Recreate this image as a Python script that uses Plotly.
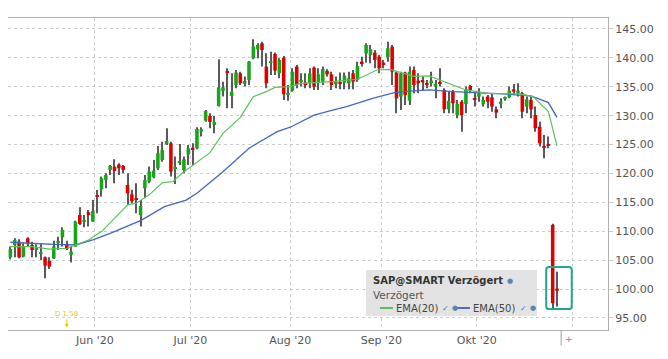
import plotly.graph_objects as go
import pandas as pd

# ---------------- data ----------------
dates = pd.bdate_range("2020-05-04", "2020-10-27")

opens = [105.5, 107.63, 108.21, 105.62, 108.79, 107.63, 106.77, 106.1, 105.5, 104.87,
         105.33, 108.1, 108.96, 107.81, 105.91, 107.35, 112.82, 111.61, 113.29, 111.67,
         116.1, 117.27, 118.88, 120.61, 121.19, 121.53, 121.3, 118.01, 116.4, 115.6,
         112.82, 117.44, 118.59, 119.34, 120.9, 122.34, 125.05, 125.22, 120.8, 121.88,
         120.61, 123.32, 124.47, 124.36, 127.24, 129.14, 129.95, 128.39, 131.68, 134.28,
         137.68, 133.41, 135.31, 137.33, 135.49, 136.18, 139.93, 141.49, 142.52, 138.49,
         139.2, 140.68, 137.33, 140.04, 133.7, 134.33, 138.49, 135.89, 135.72, 135.6,
         138.32, 135.72, 135.89, 137.74, 137.16, 135.43, 135.72, 135.72, 135.6, 137.33,
         136.18, 139.35, 140.79, 140.5, 140.91, 140.21, 139.18, 140.1, 141.95, 137.45,
         133.3, 137.45, 132.6, 137.91, 136.07, 136.18, 135.49, 135.78, 135.03, 135.72,
         134.45, 131.1, 134.16, 130.12, 132.43, 132.03, 135.14, 132.9, 133.3, 131.97,
         133.3, 133.18, 131.1, 132.03, 132.9, 133.18, 134.57, 133.99, 133.87, 131.57,
         132.72, 130.12, 128.11, 124.76, 125.11, 111.1, 100.1]
highs = [107.35, 108.79, 108.61, 107.92, 108.96, 108.21, 107.75, 107.75, 105.62, 105.5,
         108.38, 109.07, 110.69, 108.38, 107.35, 111.84, 114.15, 112.82, 113.69, 115.42,
         117.15, 119.46, 120.03, 121.47, 122.46, 121.76, 121.47, 120.03, 117.2, 118.3,
         115.42, 119.74, 121.19, 122.34, 124.76, 125.51, 127.82, 125.51, 122.92, 125.11,
         122.92, 124.94, 125.22, 127.99, 127.99, 130.99, 130.41, 129.95, 139.76, 135.89,
         138.2, 137.33, 137.91, 137.62, 136.76, 139.47, 143.22, 142.52, 142.81, 140.79,
         141.08, 140.91, 139.93, 140.33, 135.31, 138.2, 138.78, 137.33, 137.33, 138.2,
         138.49, 138.2, 138.49, 138.03, 137.62, 136.76, 137.45, 137.45, 137.62, 137.91,
         139.35, 140.21, 142.52, 142.24, 141.37, 140.5, 139.64, 142.81, 142.24, 137.62,
         137.62, 137.62, 138.49, 138.49, 137.33, 136.76, 136.18, 137.62, 136.18, 138.2,
         134.74, 134.16, 134.45, 132.72, 132.72, 135.03, 135.31, 134.16, 134.74, 133.3,
         133.58, 133.87, 131.57, 133.01, 133.3, 135.03, 135.49, 135.6, 134.16, 133.3,
         133.3, 131.57, 128.97, 126.66, 126.38, 111.3, 103.0]
lows = [105.15, 105.5, 105.33, 105.5, 107.35, 105.5, 105.5, 105.04, 101.87, 103.48,
        105.21, 106.77, 107.35, 106.77, 104.58, 107.35, 111.09, 110.69, 110.81, 111.67,
        113.11, 116.0, 117.44, 119.74, 118.3, 119.74, 120.03, 114.55, 114.8, 113.11,
        110.81, 115.71, 118.3, 119.17, 120.61, 122.05, 124.94, 119.46, 118.19, 121.47,
        120.03, 121.47, 121.47, 124.18, 126.38, 128.97, 127.82, 126.95, 131.57, 133.3,
        131.28, 131.28, 134.74, 135.31, 135.03, 135.31, 139.76, 139.93, 138.49, 134.74,
        137.04, 137.04, 136.47, 132.72, 132.6, 134.16, 134.74, 135.03, 134.74, 134.74,
        134.45, 134.45, 135.31, 136.76, 134.45, 134.74, 134.57, 134.57, 134.57, 134.57,
        135.89, 138.49, 139.18, 139.06, 138.2, 137.33, 138.2, 139.35, 135.31, 130.41,
        131.0, 131.86, 131.86, 133.87, 133.87, 134.45, 134.74, 135.03, 133.01, 135.03,
        130.41, 130.41, 130.41, 129.55, 127.24, 130.41, 133.87, 131.57, 132.43, 131.57,
        131.28, 130.7, 129.55, 131.28, 132.6, 133.01, 133.58, 133.3, 129.55, 130.41,
        129.55, 127.24, 124.65, 122.63, 124.36, 96.7, 97.0]
closes = [106.94, 108.5, 105.5, 107.35, 107.92, 106.77, 107.06, 106.2, 104.06, 103.89,
          107.35, 108.2, 110.23, 106.94, 106.48, 111.67, 111.27, 111.96, 112.82, 113.52,
          116.0, 119.17, 119.74, 121.3, 120.44, 120.9, 120.61, 116.57, 115.2, 115.5,
          114.38, 118.88, 120.32, 120.5, 123.49, 124.07, 125.63, 120.32, 120.9, 122.17,
          122.46, 124.36, 124.07, 127.7, 127.65, 130.82, 128.91, 128.91, 134.91, 134.91,
          137.45, 134.16, 137.45, 135.6, 136.01, 139.35, 141.95, 142.24, 141.37, 135.6,
          139.3, 137.8, 139.64, 133.7, 133.87, 137.62, 135.31, 136.18, 135.31, 137.33,
          135.03, 137.16, 138.08, 137.16, 135.31, 135.89, 135.49, 136.93, 136.47, 135.89,
          138.6, 139.06, 142.24, 141.49, 139.64, 138.2, 138.78, 141.66, 137.62, 133.01,
          137.33, 133.58, 137.62, 135.31, 135.6, 135.78, 135.31, 136.07, 135.49, 135.49,
          131.1, 132.55, 132.14, 132.03, 130.12, 134.62, 134.45, 132.8, 133.87, 132.72,
          132.43, 131.57, 130.53, 132.43, 133.0, 134.33, 134.16, 134.33, 130.7, 132.83,
          131.1, 127.82, 125.22, 124.53, 124.88, 97.55, 99.7]

# EMA lines (trading-day position, value)
ema20_pos = [0, 5, 9, 13, 15, 18, 21, 24, 27, 29, 32, 35, 37.5, 39.5, 46, 49, 53, 56, 59, 61,
             64.5, 67, 74, 80, 82, 84.5, 87.5, 90.5, 93, 96.5, 102, 105, 110, 114.5, 117.5,
             120.5, 124, 126]
ema20_val = [107.35, 107.35, 106.9, 107.06, 107.63, 108.5, 109.94, 112.25, 114.55, 114.84,
             116.3, 118.4, 118.6, 120.0, 123.6, 126.95, 129.7, 133.3, 134.16, 134.9,
             135.03, 135.6, 135.9, 136.3, 137.05, 137.9, 138.0, 137.3, 136.8, 136.87,
             135.3, 134.45, 133.87, 133.87, 133.76, 133.3, 130.7, 124.76]
ema50_pos = [0, 5, 10, 15, 19, 23, 27, 30, 31.5, 35.5, 40.5, 43, 49, 55, 57.5, 61.5, 64.5,
             70, 74.5, 77.5, 83.5, 88.5, 91.5, 96.5, 102, 107.5, 113.5, 120, 124, 126]
ema50_val = [108.1, 107.9, 107.75, 107.63, 108.5, 109.65, 110.9, 111.85, 112.5, 114.27,
             115.4, 116.57, 120.3, 124.36, 125.5, 127.24, 128.0, 130.1, 131.0, 131.57,
             133.0, 134.0, 134.2, 134.45, 134.16, 133.99, 133.76, 133.41, 132.26, 129.72]

y_ticks = [95, 100, 105, 110, 115, 120, 125, 130, 135, 140, 145]
month_names = {6: "Jun '20", 7: "Jul '20", 8: "Aug '20", 9: "Sep '20", 10: "Okt '20", 11: ""}
dividend_date = "2020-05-21"
dividend_text = "D 1.58"

# ---------------- figure ----------------
FONT = "DejaVu Sans"
n = len(closes)
idx = list(range(n))
GREEN, RED = "#17a617", "#dc0000"

body_base = [min(o, c) for o, c in zip(opens, closes)]
body_h = [max(abs(c - o), 0.2) for o, c in zip(opens, closes)]
body_col = [GREEN if c >= o else RED for o, c in zip(opens, closes)]

fig = go.Figure()
fig.add_trace(go.Bar(x=idx, base=lows, y=[h - l for h, l in zip(highs, lows)],
                     width=0.24, marker=dict(color="#5a5a5a", line=dict(width=0)),
                     hoverinfo="skip"))
fig.add_trace(go.Bar(x=idx, base=body_base, y=body_h, width=0.82,
                     marker=dict(color=body_col, line=dict(width=0)), hoverinfo="skip"))
fig.add_trace(go.Scatter(x=ema50_pos, y=ema50_val, mode="lines",
                         line=dict(color="#4466c4", width=1.3), hoverinfo="skip"))
fig.add_trace(go.Scatter(x=ema20_pos, y=ema20_val, mode="lines",
                         line=dict(color="#5cc25c", width=1.2), hoverinfo="skip"))

# month ticks (boundary before first trading day of each month)
tickvals, ticktext = [], []
months = [d.month for d in dates]
for i in range(1, n):
    if months[i] != months[i - 1]:
        tickvals.append(i - 0.5)
        ticktext.append(month_names[months[i]])
tickvals.append(n + 3 - 0.5)   # Nov boundary (Oct 28-30 + 1)
ticktext.append(month_names[11])

grid = "#cdcdcd"
# the page body has an 8px default margin, so the figure is offset by 8px
fig.update_layout(
    width=660, height=351,
    margin=dict(l=0, r=60, t=10, b=29),
    paper_bgcolor="white", plot_bgcolor="white",
    showlegend=False, barmode="overlay",
    font=dict(family=FONT, size=11, color="#555555"),
    xaxis=dict(range=[-0.55, 137.75], tickvals=tickvals, ticktext=ticktext,
               showgrid=True, gridcolor=grid, griddash="dot", gridwidth=1,
               showline=True, linecolor="#b0b0b0", mirror=True, ticks="",
               zeroline=False, tickfont=dict(size=11, color="#555555", family=FONT)),
    yaxis=dict(range=[92.92, 146.9], side="right", tickvals=y_ticks, tickformat=".2f",
               showgrid=True, gridcolor=grid, griddash="dot", gridwidth=1,
               showline=True, linecolor="#b0b0b0", mirror=True,
               ticks="outside", ticklen=4, tickcolor=grid, zeroline=False,
               tickfont=dict(size=11, color="#555555", family=FONT)),
)

# pixel (page coords of the reference) -> paper coords
def px(xp):
    return (xp - 8) / 600.0

def py(yp):
    return (330 - yp) / 312.0

# legend / info box
fig.add_shape(type="rect", xref="paper", yref="paper", x0=px(366), x1=px(537),
              y0=py(316), y1=py(270), fillcolor="#e3e3e3", line=dict(width=0), layer="above")
ann = []
ann.append(dict(x=px(371), y=py(280.5), text="<b>SAP@SMART Verzögert</b>",
                font=dict(size=10, color="#333333", family=FONT)))
ann.append(dict(x=px(505), y=py(280.5), text="●", font=dict(size=7, color="#5b84b1", family=FONT)))
ann.append(dict(x=px(371), y=py(295), text="Verzögert",
                font=dict(size=10.5, color="#555555", family=FONT)))
ann.append(dict(x=px(394), y=py(308), text="EMA(20)", font=dict(size=10, color="#444444", family=FONT)))
ann.append(dict(x=px(440), y=py(308), text="✓", font=dict(size=8, color="#3b6fd0", family=FONT)))
ann.append(dict(x=px(450), y=py(308), text="●", font=dict(size=7, color="#5b84b1", family=FONT)))
ann.append(dict(x=px(471), y=py(308), text="EMA(50)", font=dict(size=10, color="#444444", family=FONT)))
ann.append(dict(x=px(518), y=py(308), text="✓", font=dict(size=8, color="#3b6fd0", family=FONT)))
ann.append(dict(x=px(528), y=py(308), text="●", font=dict(size=7, color="#5b84b1", family=FONT)))
for a in ann:
    a.update(xref="paper", yref="paper", xanchor="left", yanchor="middle", showarrow=False)
    fig.add_annotation(**a)
fig.add_shape(type="line", xref="paper", yref="paper", x0=px(380), x1=px(393),
              y0=py(308), y1=py(308), line=dict(color="#3fb23f", width=1.6), layer="above")
fig.add_shape(type="line", xref="paper", yref="paper", x0=px(457), x1=px(470),
              y0=py(308), y1=py(308), line=dict(color="#2f4fb0", width=1.6), layer="above")

# highlight box around the last candle
last = n - 1
bx0, bx1 = last - 2.5, last + 3.4
by0 = min(lows[-2:]) - 0.15
by1 = highs[-1] + 0.8
rx, ry = 0.7, 0.5
path = (f"M {bx0+rx},{by0} L {bx1-rx},{by0} Q {bx1},{by0} {bx1},{by0+ry} "
        f"L {bx1},{by1-ry} Q {bx1},{by1} {bx1-rx},{by1} L {bx0+rx},{by1} "
        f"Q {bx0},{by1} {bx0},{by1-ry} L {bx0},{by0+ry} Q {bx0},{by0} {bx0+rx},{by0} Z")
fig.add_shape(type="path", xref="x", yref="y", path=path,
              line=dict(color="#20a88c", width=2), layer="above")

# end-of-data marker below the axis
fig.add_shape(type="line", xref="x", yref="paper", x0=last + 0.95, x1=last + 0.95,
              y0=0, y1=-0.05, line=dict(color="#a0a0a0", width=1))
fig.add_annotation(x=last + 1.3, y=-0.03, xref="x", yref="paper", text="+",
                   showarrow=False, xanchor="left", yanchor="middle",
                   font=dict(size=9, color="#888888", family=FONT))

# dividend marker
div_i = list(dates.strftime("%Y-%m-%d")).index(dividend_date)
fig.add_annotation(x=div_i, y=93.3, xref="x", yref="y", text=dividend_text,
                   showarrow=True, ax=0, ay=-14, arrowhead=2, arrowsize=0.8,
                   arrowwidth=1, arrowcolor="#f2c21b", standoff=0,
                   font=dict(size=7, color="#f2c21b", family=FONT))

fig.write_html("out.html")
